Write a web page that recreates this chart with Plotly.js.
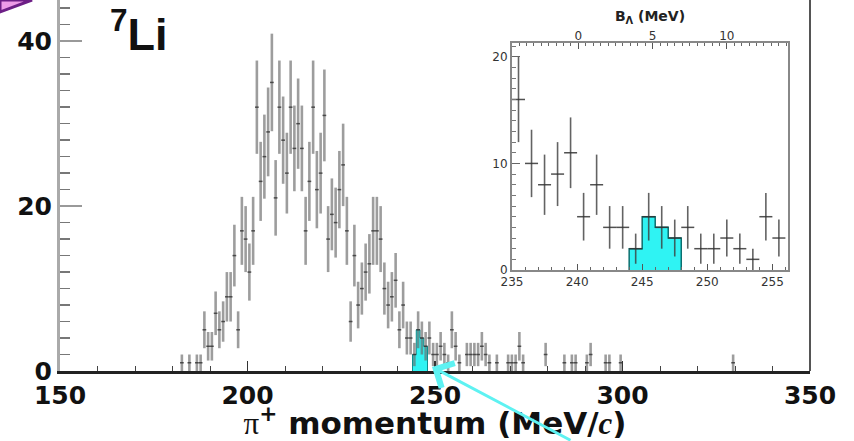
<!DOCTYPE html>
<html><head><meta charset="utf-8">
<script src="https://cdn.plot.ly/plotly-3.0.1.min.js"></script>
<style>html,body{margin:0;padding:0;background:#fff;}#chart{width:854px;height:441px;}</style>
</head><body><div id="chart"></div>
<script>
// pi+ momentum bin centres (MeV/c), 1 MeV/c bins, non-empty bins only
const momentum = [182.5,184.5,186.5,187.5,188.5,189.5,190.5,191.5,192.5,193.5,194.5,195.5,196.5,197.5,198.5,199.5,200.5,201.5,
  202.5,203.5,204.5,205.5,206.5,207.5,208.5,209.5,210.5,211.5,212.5,213.5,214.5,215.5,216.5,217.5,218.5,219.5,220.5,
  221.5,222.5,223.5,224.5,225.5,226.5,227.5,228.5,229.5,230.5,231.5,232.5,233.5,234.5,235.5,236.5,237.5,238.5,239.5,
  240.5,241.5,242.5,243.5,244.5,245.5,246.5,247.5,248.5,249.5,250.5,251.5,252.5,253.5,254.5,255.5,256.5,258.5,259.5,
  260.5,261.5,262.5,263.5,264.5,266.5,269.5,270.5,271.5,272.5,273.5,279.5,284.5,286.5,287.5,290.5,291.5,295.5,296.5,299.5,329.5];
const counts = [1,1,1,1,5,3,3,7,5,6,9,9,14,5,17,16,12,17,
  32,23,26,29,35,21,32,28,24,32,27,30,27,17,23,32,22,24,31,
  16,19,18,22,25,17,6,14,8,10,12,13,17,17,16,10,8,9,11,
  5,8,4,4,2,5,4,3,4,2,2,3,2,1,5,3,1,2,2,
  2,2,3,2,1,1,1,1,1,3,1,2,1,1,1,1,2,1,1,1,1];
// signal window (highlighted in cyan)
const signalLow = 244, signalHigh = 248;
const insetRange = [235, 256.2];
const xTicks = [150, 200, 250, 300, 350];
const yTicks = [0, 20, 40];
const insetXTicks = [235, 240, 245, 250, 255];
const insetYTicks = [0, 10, 20];
const bLambdaTicks = [0, 5, 10];
// B_Lambda scale: B = (p - p0) * k
const p0 = 240.1, kB = 0.877;

const errs = counts.map(c => Math.sqrt(c));
const halfW = counts.map(() => 0.5);

// cyan step histogram from signal bins
const sx = [signalLow], sy = [0];
momentum.forEach((p, i) => { if (p > signalLow && p < signalHigh) { sx.push(p - 0.5); sy.push(counts[i]); } });
sx.push(signalHigh); sy.push(sy[sy.length - 1]); sx.push(signalHigh); sy.push(0);

const inIdx = momentum.map((p, i) => i).filter(i => momentum[i] > insetRange[0] && momentum[i] < insetRange[1]);
const ip = inIdx.map(i => momentum[i]), ic = inIdx.map(i => counts[i]);

const cyan = '#2ff3f3';
const traces = [
  {x: sx, y: sy, type: 'scatter', mode: 'lines', line: {shape: 'hv', color: '#0c8f8f', width: 1}, fill: 'tozeroy', fillcolor: cyan, hoverinfo: 'skip', xaxis: 'x', yaxis: 'y'},
  {x: momentum, y: counts, type: 'scatter', mode: 'markers', marker: {size: 1, color: 'rgba(0,0,0,0)'},
   error_y: {type: 'data', array: errs, visible: true, color: 'rgba(105,105,105,0.65)', thickness: 2.6, width: 0},
   error_x: {type: 'data', array: halfW, visible: true, color: 'rgba(50,50,50,0.8)', thickness: 1.5, width: 0},
   xaxis: 'x', yaxis: 'y'},
  {x: sx, y: sy, type: 'scatter', mode: 'lines', line: {shape: 'hv', color: '#0c6f6f', width: 1.5}, fill: 'tozeroy', fillcolor: cyan, hoverinfo: 'skip', xaxis: 'x2', yaxis: 'y2'},
  {x: ip, y: ic, type: 'scatter', mode: 'markers', marker: {size: 1, color: 'rgba(0,0,0,0)'},
   error_y: {type: 'data', array: ic.map(c => Math.sqrt(c)), visible: true, color: 'rgba(60,60,60,0.8)', thickness: 1.6, width: 0},
   error_x: {type: 'data', array: ic.map(() => 0.5), visible: true, color: 'rgba(50,50,50,0.85)', thickness: 1.5, width: 0},
   xaxis: 'x2', yaxis: 'y2'},
  // same inset points on the B_Lambda scale (invisible, only to activate the top axis)
  {x: ip.map(p => (p - p0) * kB), y: ic, type: 'scatter', mode: 'markers', marker: {size: 1, color: 'rgba(0,0,0,0)'}, hoverinfo: 'skip', xaxis: 'x3', yaxis: 'y2'}
];

const FAM = 'DejaVu Sans, Liberation Sans, Arial, sans-serif';
const mainFont = {family: FAM, size: 25, color: '#111', weight: 'bold'};
const insetFont = {family: FAM, size: 12, color: '#333'};
const W = 750, H = 371, L = 60;
const layout = {
  width: 854, height: 441,
  margin: {l: L, r: 44, t: 0, b: 70, pad: 0},
  paper_bgcolor: '#fff', plot_bgcolor: '#fff',
  showlegend: false,
  xaxis: {range: [150, 350], tickvals: xTicks, ticktext: xTicks.map(String), ticks: 'inside', ticklen: 10, tickwidth: 1.5, tickcolor: '#333',
    minor: {dtick: 10, ticks: 'inside', ticklen: 5, tickcolor: '#444', tickwidth: 1},
    showline: true, linecolor: '#222', linewidth: 2.5, showgrid: false, zeroline: false, tickfont: mainFont, anchor: 'y',
    title: {text: '<span style="font-family:Liberation Serif,serif;font-weight:normal">π</span><sup>+</sup> momentum (MeV/<span style="font-family:Liberation Serif,serif;font-style:italic">c</span>)', font: {family: FAM, size: 31, color: '#111', weight: 'bold'}, standoff: 2}},
  yaxis: {range: [0, 45], tickvals: yTicks, ticktext: yTicks.map(String), ticks: 'inside', ticklen: 22, tickwidth: 1.5, tickcolor: '#999',
    minor: {dtick: 2, ticks: 'inside', ticklen: 10, tickcolor: '#777', tickwidth: 1.5},
    showline: true, linecolor: '#aaa', linewidth: 3, mirror: false, showgrid: false, zeroline: false, tickfont: mainFont, anchor: 'x'},
  xaxis2: {domain: [(512 - L) / W, (788 - L) / W], anchor: 'y2', range: insetRange, tickvals: insetXTicks, ticktext: insetXTicks.map(String),
    ticks: 'inside', ticklen: 6, tickcolor: '#555', minor: {dtick: 1, ticks: 'inside', ticklen: 3, tickcolor: '#666'},
    showline: true, mirror: true, linecolor: '#888', linewidth: 2, showgrid: false, zeroline: false, tickfont: insetFont},
  yaxis2: {domain: [(H - 270) / H, (H - 43) / H], anchor: 'x2', range: [0, 21.3], tickvals: insetYTicks, ticktext: insetYTicks.map(String),
    ticks: 'inside', ticklen: 8, tickcolor: '#666', minor: {dtick: 1, ticks: 'inside', ticklen: 4, tickcolor: '#777'},
    showline: true, mirror: true, linecolor: '#888', linewidth: 2, showgrid: false, zeroline: false, tickfont: insetFont},
  xaxis3: {overlaying: 'x2', anchor: 'y2', side: 'top', range: insetRange.map(p => (p - p0) * kB), tickvals: bLambdaTicks, ticktext: bLambdaTicks.map(String),
    ticks: 'inside', ticklen: 6, tickcolor: '#555', minor: {dtick: 0.5, ticks: 'inside', ticklen: 3, tickcolor: '#666'},
    showline: false, showgrid: false, zeroline: false, tickfont: insetFont,
    title: {text: 'B<sub>Λ</sub> (MeV)', font: {family: FAM, size: 14, color: '#222', weight: 'bold'}, standoff: 3}},
  annotations: [
    {xref: 'paper', yref: 'paper', x: (108 - L) / W, y: 1.0, xanchor: 'left', yanchor: 'top', showarrow: false,
     text: '<sup>7</sup>Li', font: {family: 'Liberation Sans, Arial, sans-serif', size: 45, color: '#111', weight: 'bold'}},
    {xref: 'x', yref: 'y', x: 249.2, y: 0.5, text: '', showarrow: true, axref: 'pixel', ayref: 'pixel', ax: 140, ay: 76,
     arrowhead: 4, arrowsize: 1.8, arrowwidth: 3, arrowcolor: '#5ef2f2'}
  ],
  shapes: [
    // right-hand frame edge of the main panel
    {type: 'line', xref: 'paper', yref: 'paper', x0: 1, x1: 1, y0: 0, y1: 1, line: {color: '#555', width: 2}},
    {type: 'path', xref: 'paper', yref: 'paper', path: `M ${-L / W} 1 L ${(32 - L) / W} 1 L ${-L / W} ${(H - 12) / H} Z`,
     fillcolor: '#ee9be8', line: {color: '#6d1f86', width: 3}}
  ]
};
Plotly.newPlot('chart', traces, layout, {staticPlot: true});
</script></body></html>
